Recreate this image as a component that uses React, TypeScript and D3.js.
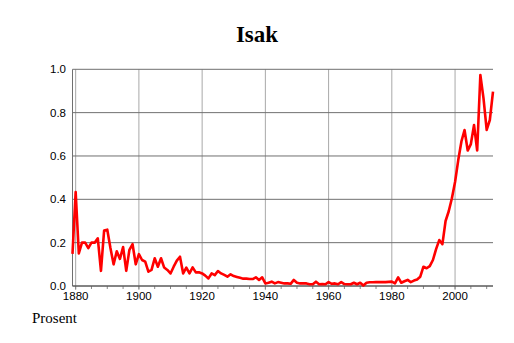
import React from "react";
import * as d3 from "d3";

const title = "Isak";
const yLabel = "Prosent";
const years: number[] = d3.range(1879, 2013);
const values: number[] = [
  0.148, 0.434, 0.15, 0.2, 0.2, 0.175, 0.2, 0.2, 0.22, 0.07,
  0.256, 0.26, 0.175, 0.1, 0.16, 0.125, 0.18, 0.07, 0.167, 0.193,
  0.1, 0.147, 0.12, 0.112, 0.066, 0.074, 0.128, 0.089, 0.128, 0.085,
  0.074, 0.058, 0.089, 0.117, 0.135, 0.058, 0.085, 0.058, 0.086, 0.063,
  0.063, 0.058, 0.048, 0.035, 0.058, 0.05, 0.069, 0.058, 0.051, 0.043,
  0.054, 0.046, 0.042, 0.038, 0.034, 0.034, 0.032, 0.032, 0.04, 0.028,
  0.04, 0.012, 0.015, 0.02, 0.012, 0.018, 0.015, 0.012, 0.012, 0.01,
  0.028, 0.015, 0.012, 0.012, 0.012, 0.008, 0.008, 0.02, 0.008, 0.009,
  0.008, 0.018, 0.01, 0.012, 0.008, 0.018, 0.009, 0.008, 0.008, 0.015,
  0.008, 0.015, 0.002, 0.015, 0.017, 0.017, 0.018, 0.018, 0.018, 0.018,
  0.019, 0.02, 0.012, 0.04, 0.015, 0.022, 0.028, 0.018, 0.025, 0.03,
  0.043, 0.089, 0.082, 0.092, 0.12, 0.17, 0.212, 0.193, 0.3, 0.345,
  0.405, 0.48, 0.58, 0.666, 0.72, 0.625, 0.655, 0.743, 0.625, 0.974,
  0.866, 0.72, 0.766, 0.897,
];
const yTicks = [0, 0.2, 0.4, 0.6, 0.8, 1.0];
const xTicks = [1880, 1900, 1920, 1940, 1960, 1980, 2000];
const minorTicks = d3.range(1880, 2013, 5);

export default function App() {
  const W = 514, H = 343;
  const left = 72.5, right = 493, top = 69.3, bottom = 286;
  const x = d3.scaleLinear().domain([1879, 2012]).range([left, right]);
  const y = d3.scaleLinear().domain([0, 1]).range([bottom, top]);
  const line = d3
    .line<number>()
    .x((_, i) => x(years[i]))
    .y((d) => y(d));
  const sans = "'Liberation Sans', Arial, sans-serif";
  const serif = "'Liberation Serif', 'Times New Roman', serif";
  return (
    <svg
      width={W}
      height={H}
      style={{ position: "absolute", left: 0, top: 0, background: "#fff" }}
    >
      <text x={257} y={42} textAnchor="middle" fontFamily={serif} fontWeight="bold" fontSize={23}>
        {title}
      </text>
      {xTicks.map((t) => (
        <line key={"vx" + t} x1={x(t)} x2={x(t)} y1={top} y2={bottom + 4} stroke="#a8a8a8" strokeWidth={1} />
      ))}
      {minorTicks.map((t) => (
        <line key={"mx" + t} x1={x(t)} x2={x(t)} y1={bottom} y2={bottom + 3} stroke="#888" strokeWidth={1} />
      ))}
      {yTicks.map((t) => (
        <line key={"hy" + t} x1={left} x2={right} y1={y(t)} y2={y(t)} stroke="#707070" strokeWidth={1} />
      ))}
      <line x1={left} x2={left} y1={top} y2={bottom} stroke="#707070" strokeWidth={1} />
      <line x1={left} x2={right} y1={bottom} y2={bottom} stroke="#505050" strokeWidth={1} />
      {yTicks.map((t) => (
        <text key={"ty" + t} x={66} y={y(t) + 4} textAnchor="end" fontFamily={sans} fontSize={11.5} fill="#000">
          {t.toFixed(1)}
        </text>
      ))}
      {xTicks.map((t) => (
        <text key={"tx" + t} x={x(t)} y={299.5} textAnchor="middle" fontFamily={sans} fontSize={11.5} fill="#000">
          {t}
        </text>
      ))}
      <path d={line(values) || ""} fill="none" stroke="#ff0000" strokeWidth={2.6} strokeLinejoin="round" />
      <text x={32} y={323} fontFamily={serif} fontSize={15} fill="#000">
        {yLabel}
      </text>
    </svg>
  );
}
